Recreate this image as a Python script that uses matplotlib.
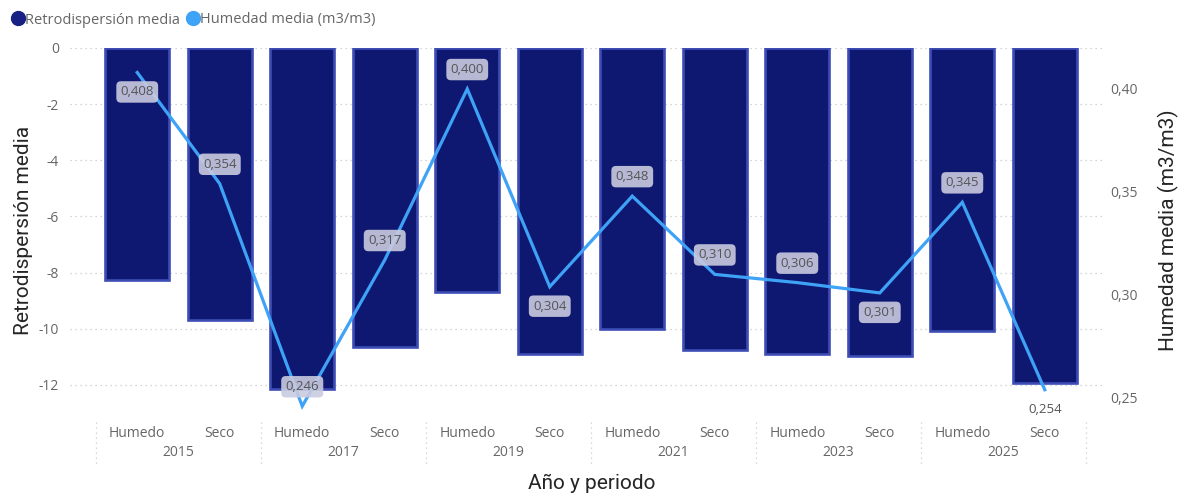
import numpy as np
import matplotlib.pyplot as plt
from matplotlib.lines import Line2D
from matplotlib import transforms

# Datos por año y periodo
years = ['2015', '2017', '2019', '2021', '2023', '2025']
periods = ['Humedo', 'Seco']
retro = [-8.26, -9.68, -12.13, -10.64, -8.68, -10.89,
         -10.0, -10.75, -10.89, -10.96, -10.07, -11.92]
humedad = [0.408, 0.354, 0.246, 0.317, 0.400, 0.304,
           0.348, 0.310, 0.306, 0.301, 0.345, 0.254]
left_ticks = [0, -2, -4, -6, -8, -10, -12]
right_ticks = [0.25, 0.30, 0.35, 0.40]

# posicion de la etiqueta respecto al punto: 1 arriba, -1 abajo
label_side = [-1, 1, 1, 1, 1, -1, 1, 1, 1, -1, 1, -1]

bar_face = '#0e1870'
bar_edge = '#3d4db5'
line_color = '#3ea2f7'
txt_grey = '#666666'
font = 'Open Sans'
title_font = 'Roboto'

W, H = 1186, 494
fig = plt.figure(figsize=(W / 100, H / 100), dpi=100)
ax_l, ax_r, ax_t, ax_b = 70, 1105, 48, 413
ax = fig.add_axes([ax_l / W, 1 - ax_b / H, (ax_r - ax_l) / W, (ax_b - ax_t) / H])

x = np.arange(len(retro))
ax.bar(x, retro, width=0.78, color=bar_face, edgecolor=bar_edge,
       linewidth=1.9, zorder=2)
ax.set_xlim(-0.815, 11.73)
ax.set_ylim(-13, 0)
ax.set_yticks(left_ticks)
ax.set_yticklabels([str(t) for t in left_ticks],
                   fontsize=10, color=txt_grey, family=font)
ax.tick_params(axis='y', length=0, pad=8)
ax.set_xticks([])
ax.grid(axis='y', color='#c8c8c8', linestyle=(0, (1, 3)), linewidth=0.9, zorder=0)
for s in ax.spines.values():
    s.set_visible(False)
ax.set_ylabel('Retrodispersión media', fontsize=15, color='#252525',
              family=title_font, labelpad=4)

ax2 = ax.twinx()
ax2.set_ylim(0.2427, 0.4199)
ax2.plot(x, humedad, color=line_color, linewidth=2.3, zorder=3,
         solid_joinstyle='miter')
ax2.set_yticks(right_ticks)
ax2.set_yticklabels([f'{t:.2f}'.replace('.', ',') for t in right_ticks],
                    fontsize=10, color=txt_grey, family=font)
ax2.tick_params(axis='y', length=0, pad=4)
for s in ax2.spines.values():
    s.set_visible(False)
ax2.set_ylabel('Humedad media (m3/m3)', fontsize=15, color='#252525',
               family=title_font, labelpad=14)

# etiquetas de datos de la linea
for i, (xi, v) in enumerate(zip(x, humedad)):
    lbl = f'{v:.3f}'.replace('.', ',')
    box = None
    if i != len(humedad) - 1:
        box = dict(boxstyle='round,pad=0.32,rounding_size=0.35',
                   fc='#c9cbe0', ec='none', alpha=0.9)
    ax2.annotate(lbl, (xi, v), xytext=(0, 14 * label_side[i]),
                 textcoords='offset points', ha='center', va='center',
                 fontsize=9.5, color='#555555', family=font, bbox=box,
                 zorder=4)

# eje x jerarquico: periodo y año
trans = transforms.blended_transform_factory(ax.transData, fig.transFigure)
for i in x:
    fig.text(i, 1 - 433 / H, periods[i % 2], transform=trans, fontsize=10,
             color=txt_grey, family=font, ha='center', va='center')
for j, yr in enumerate(years):
    fig.text(2 * j + 0.5, 1 - 452 / H, yr, transform=trans, fontsize=10,
             color=txt_grey, family=font, ha='center', va='center')
for j in range(len(years) + 1):
    fig.add_artist(Line2D([2 * j - 0.5, 2 * j - 0.5], [1 - 422 / H, 1 - 467 / H],
                          transform=trans, color='#cccccc',
                          linestyle=(0, (1, 3)), linewidth=0.9))
fig.text(592 / W, 1 - 483 / H, 'Año y periodo', fontsize=15, color='#252525',
         family=title_font, ha='center', va='center')

# leyenda
handles = [Line2D([], [], marker='o', linestyle='none', markersize=10,
                  color='#172083', label='Retrodispersión media'),
           Line2D([], [], marker='o', linestyle='none', markersize=10,
                  color=line_color, label='Humedad media (m3/m3)')]
leg = fig.legend(handles=handles, loc='center left', ncol=2,
                 bbox_to_anchor=(-0.003, 1 - 20 / H), frameon=False,
                 handletextpad=-0.15, columnspacing=0.3, handlelength=1.2,
                 prop={'family': font, 'size': 10.5})
for t in leg.get_texts():
    t.set_color(txt_grey)

fig.savefig('out.png', dpi=100)
